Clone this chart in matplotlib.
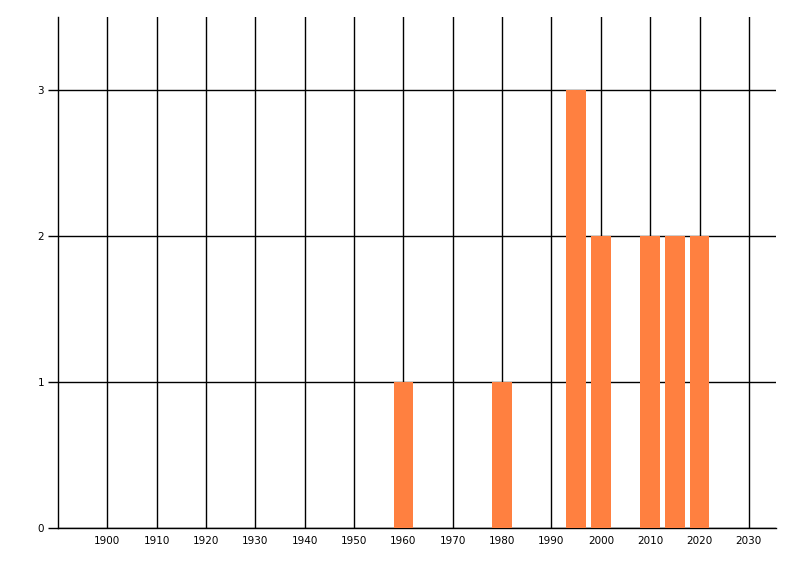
import matplotlib
matplotlib.use("Agg")
import matplotlib.pyplot as plt

years = [1960, 1980, 1995, 2000, 2010, 2015, 2020]
counts = [1, 1, 3, 2, 2, 2, 2]
x_ticks = list(range(1900, 2031, 10))
y_ticks = [0, 1, 2, 3]

fig = plt.figure(figsize=(8, 5.76), dpi=100)
ax = fig.add_axes([58/800, 1-528/576, (776-58)/800, (528-17)/576])
ax.set_axisbelow(True)
ax.bar(years, counts, width=4, color="#FF8040", zorder=3)
ax.set_xlim(1890, 2035.5)
ax.set_ylim(0, 3.5)
ax.set_xticks(x_ticks)
ax.set_xticklabels([str(t) for t in x_ticks])
ax.set_yticks(y_ticks)
ax.grid(True, color="black", linewidth=1.0)
for s in ["top", "right"]:
    ax.spines[s].set_visible(False)
for s in ["left", "bottom"]:
    ax.spines[s].set_linewidth(1.0)
ax.tick_params(axis="x", length=0, pad=6, labelsize=7.5)
ax.tick_params(axis="y", length=7, width=1.0, pad=3, labelsize=7.5)
fig.savefig("out.png", dpi=100)
